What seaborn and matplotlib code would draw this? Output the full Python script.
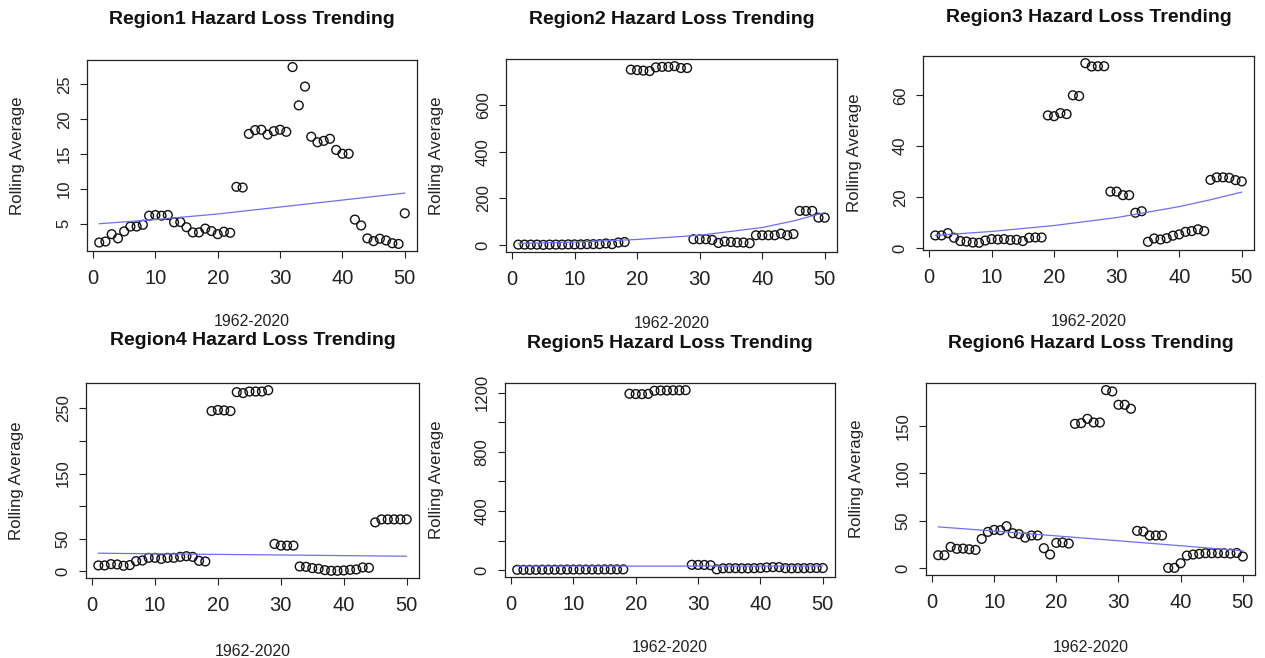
import matplotlib
matplotlib.use("Agg")
import matplotlib.pyplot as plt
import seaborn as sns
import pandas as pd

# ---- data ----
years = list(range(1, 51))

region1 = [2.3, 2.45, 3.5, 2.9, 3.9, 4.6, 4.6, 4.85, 6.15, 6.25,
           6.15, 6.25, 5.2, 5.25, 4.5, 3.75, 3.75, 4.3, 3.95, 3.5,
           3.85, 3.7, 10.3, 10.2, 17.9, 18.45, 18.5, 17.8, 18.3, 18.5,
           18.2, 27.5, 22.0, 24.7, 17.5, 16.7, 16.9, 17.2, 15.6, 15.05,
           15.05, 5.6, 4.75, 2.9, 2.5, 2.85, 2.6, 2.2, 2.1, 6.5]

region2 = [3, 3, 3, 3, 2, 3, 3, 3, 4, 4,
           4, 5, 5, 5, 8, 5, 12, 14, 750, 748,
           746, 744, 760, 762, 762, 765, 757, 757, 26, 26,
           26, 23, 10, 16, 14, 12, 12, 9, 43, 43,
           43, 43, 50, 43, 48, 147, 147, 147, 118, 118]

region3 = [5.0, 5.0, 5.9, 4.1, 2.8, 2.6, 2.2, 2.1, 3.0, 3.55,
           3.4, 3.55, 3.2, 3.3, 2.8, 4.1, 4.2, 4.2, 52.1, 51.8,
           53.0, 52.6, 60.0, 59.7, 72.6, 71.3, 71.4, 71.4, 22.2, 22.2,
           20.8, 20.8, 13.9, 14.5, 2.5, 3.8, 3.4, 3.9, 4.9, 5.4,
           6.4, 6.7, 7.4, 6.7, 26.8, 27.8, 27.8, 27.6, 26.7, 26.2]

region4 = [8.7, 8.7, 10.7, 10.2, 8.2, 9.2, 15.3, 16.3, 20.4, 20.4,
           18.8, 20.4, 20.4, 21.9, 22.9, 21.9, 15.8, 14.8, 246, 247.6,
           247, 246, 275, 273.6, 276, 276, 276, 278, 41.8, 39.2,
           39.2, 39.2, 7.1, 6.6, 4.6, 3.6, 1.5, 0.5, 0.5, 1.0,
           2.0, 2.5, 5.6, 5.1, 74.9, 79.5, 79.5, 79.5, 79.5, 79.5]

region5 = [2, 2, 2, 2, 3, 3, 3, 3, 4, 4,
           4, 4, 4, 4, 5, 5, 5, 5, 1193, 1191,
           1190, 1192, 1213, 1215, 1215, 1216, 1216, 1217, 36, 35,
           35, 33, 5, 12, 13, 13, 12, 12, 13, 14,
           18, 20, 20, 13, 12, 13, 13, 14, 14, 14]

region6 = [13.4, 13.4, 22.2, 20.1, 20.4, 19.7, 19.0, 30.6, 38.0, 40.1,
           39.8, 44.0, 36.6, 35.6, 32.0, 34.2, 34.2, 20.8, 14.1, 26.4,
           26.8, 25.7, 152.1, 152.8, 157.4, 153.5, 153.5, 187.7, 186.3, 172.2,
           172.2, 168.0, 39.1, 38.4, 34.2, 34.2, 34.2, 0.0, 0.0, 4.9,
           13.0, 14.1, 14.8, 15.5, 15.5, 15.5, 15.5, 15.1, 15.8, 12.0]

# fitted trend curves, read at a few x positions
trend_x = [1, 10, 20, 30, 40, 45, 50]
trend1 = [5.0, 5.6, 6.4, 7.4, 8.4, 8.9, 9.4]
trend2 = [8, 14, 25, 43, 76, 104, 140]
trend3 = [5.0, 6.56, 8.88, 12.0, 16.3, 19.0, 22.0]
trend4 = [27.5, 26.6, 25.7, 24.8, 23.8, 23.3, 22.9]
trend5 = [27, 27, 27, 27.5, 27.5, 28, 28]
trend6 = [43.3, 38.9, 33.8, 28.6, 23.4, 20.7, 18.0]

titles = ["Region1 Hazard Loss Trending", "Region2 Hazard Loss Trending",
          "Region3 Hazard Loss Trending", "Region4 Hazard Loss Trending",
          "Region5 Hazard Loss Trending", "Region6 Hazard Loss Trending"]

x_ticks = [0, 10, 20, 30, 40, 50]
y_ticks = [[5, 10, 15, 20, 25],
           [0, 200, 400, 600],
           [0, 20, 40, 60],
           [0, 50, 100, 150, 200, 250],
           [0, 200, 400, 600, 800, 1000, 1200],
           [0, 50, 100, 150]]
y_tick_labels = [["5", "10", "15", "20", "25"],
                 ["0", "200", "400", "600"],
                 ["0", "20", "40", "60"],
                 ["0", "50", "", "150", "", "250"],
                 ["0", "", "400", "", "800", "", "1200"],
                 ["0", "50", "100", "150"]]

series = [region1, region2, region3, region4, region5, region6]
trends = [trend1, trend2, trend3, trend4, trend5, trend6]

# ---- layout (pixel boxes: left, right, top, bottom) ----
W, H = 1265, 658
boxes = [(87, 417, 60, 251), (506, 837, 59, 252), (923, 1254, 56, 250),
         (86, 419, 383, 578), (505, 835, 383, 577), (926, 1255, 383, 575)]
title_y = [20, 19, 17, 341, 343, 343]
xlab_y = [322, 323, 322, 651, 648, 647]
ylab_x = [18, 437, 855, 17, 436, 857]

sns.set_style("ticks")
plt.rcParams['font.family'] = ['Liberation Sans', 'DejaVu Sans']

fig = plt.figure(figsize=(W / 100, H / 100), dpi=100)

for i in range(6):
    l, r, t, b = boxes[i]
    ax = fig.add_axes([l / W, 1 - b / H, (r - l) / W, (b - t) / H])
    df = pd.DataFrame({"x": years, "y": series[i]})
    sns.scatterplot(data=df, x="x", y="y", ax=ax, marker="o", s=40,
                    facecolors="none", edgecolor="#111111", linewidth=1.0)
    sns.lineplot(x=trend_x, y=trends[i], ax=ax, color="#6f6ff2", lw=0.9)
    ax.margins(x=0.04, y=0.04)
    ax.set_xticks(x_ticks)
    ax.set_xticklabels([str(v) for v in x_ticks], fontsize=14.5)
    ax.set_yticks(y_ticks[i])
    ax.set_yticklabels(y_tick_labels[i], fontsize=12, rotation=90, va="center")
    ax.set_xlabel("")
    ax.set_ylabel("")
    ax.tick_params(direction="out", length=5, width=0.8, colors="#222222")
    ax.tick_params(axis="x", pad=8)
    ax.tick_params(axis="y", pad=6)
    for sp in ax.spines.values():
        sp.set_visible(True)
        sp.set_linewidth(0.9)
        sp.set_color("#222222")

    cx = (l + r) / 2 / W
    fig.text(cx, 1 - title_y[i] / H, titles[i], ha="center", va="center",
             fontsize=14, fontweight="bold", color="#111111")
    fig.text(cx, 1 - xlab_y[i] / H, "1962-2020", ha="center", va="center",
             fontsize=11.5, color="#222222")
    fig.text(ylab_x[i] / W, 1 - ((t + b) / 2) / H, "Rolling Average",
             ha="center", va="center", rotation=90, fontsize=12.2,
             color="#222222")

fig.savefig("out.png", dpi=100, facecolor="white")
